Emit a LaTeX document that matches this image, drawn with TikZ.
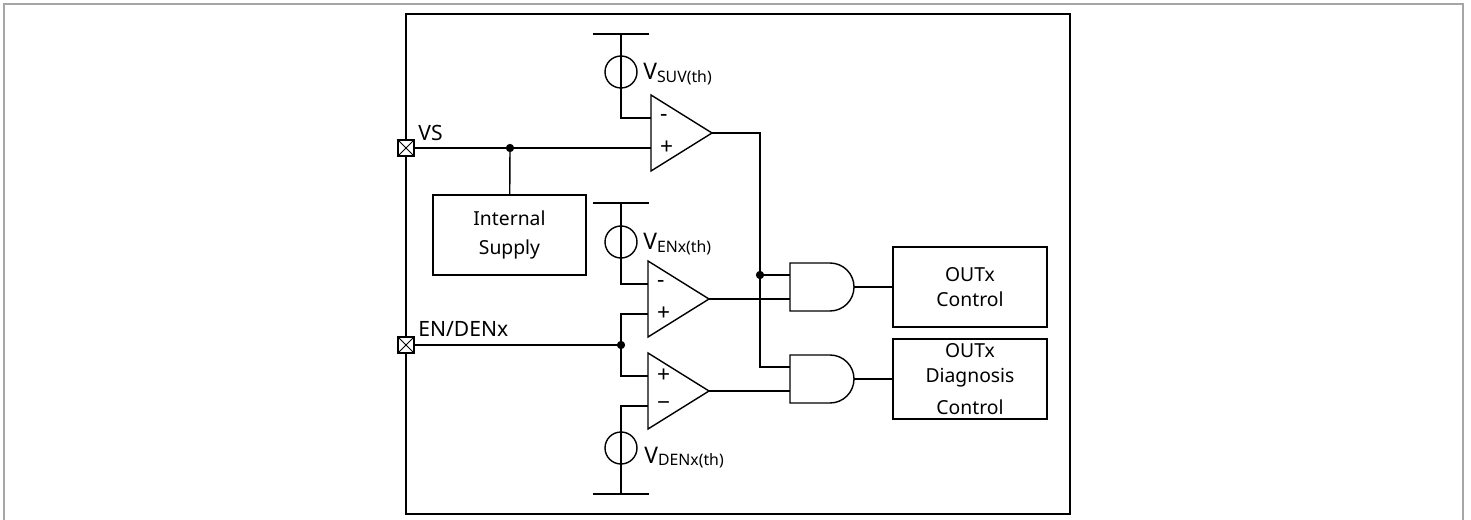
\documentclass[tikz,border=0pt]{standalone}
\usepackage{fontspec}
\setmainfont{Noto Sans}
\usetikzlibrary{positioning}
\newcommand{\Vth}[1]{{\fontsize{13}{16}\selectfont V}\raisebox{-1.5pt}{\fontsize{9}{11}\selectfont #1}}
\tikzset{
    wire/.style={line width=0.8pt},
    blk/.style={draw,line width=0.8pt,minimum width=3.08cm,minimum height=1.6cm,
        inner sep=0pt,align=center},
    src/.style={draw,circle,line width=0.8pt,minimum size=0.64cm,inner sep=0pt},
    jdot/.style={draw,fill,circle,inner sep=0pt,minimum size=0.15cm},
    pin/.style={draw,fill=white,line width=0.8pt,minimum size=0.32cm,inner sep=0pt,
        path picture={\draw[line width=0.5pt]
            (path picture bounding box.north west) -- (path picture bounding box.south east)
            (path picture bounding box.north east) -- (path picture bounding box.south west);}},
}

\begin{document}
\begin{tikzpicture}[x=0.02cm,y=-0.02cm,font=\fontsize{11}{15}\selectfont]
    \useasboundingbox (0,0) rectangle (1471,520);
    \draw[gray!70,line width=1pt] (4,530) |- (1463,4) -- (1463,530);
    \draw[wire] (406,14) rectangle (1070,514);

    % comparators
    \foreach \x/\y[
        count = \n,
        evaluate = \y as \ya using \y-15,
        evaluate = \y as \yb using \y+15,
        evaluate = \x as \xo using \x+61,
    ] in {651/133,648/299,648/391}{%
        \draw[wire] (\x,\y-38) -- (\xo,\y) -- (\x,\y+38) -- cycle;
        \coordinate (C\n-a) at (\x,\ya);
        \coordinate (C\n-b) at (\x,\yb);
        \coordinate (C\n-o) at (\xo,\y);
    }
    \foreach \c/\s in {C1-a/-,C1-b/+,C2-a/-,C2-b/+,C3-a/+,C3-b/−}{%
        \node[inner sep=0pt,right=5pt of \c,font=\fontsize{13}{15}\selectfont] {\s};
    }

    % and gates
    \foreach \y[count = \n] in {287,379}{%
        \draw[wire] (790,\y-24) -- (830,\y-24)
            arc[start angle=-90,end angle=90,radius=24] -- (790,\y+24) -- cycle;
        \coordinate (G\n-a) at (790,\y-12);
        \coordinate (G\n-b) at (790,\y+12);
        \coordinate (G\n-o) at (854,\y);
    }

    % blocks
    \node[blk,minimum width=3.06cm] (Sup) at (509.5,235) {Internal\\[1pt]Supply};
    \node[blk] (Ctl) at (970,287) {OUTx\\[-1pt]Control};
    \node[blk] (Diag) at (970,379) {OUTx\\[-1pt]Diagnosis\\[3pt]Control};

    % threshold sources
    \node[src] (S1) at (621,72) {};
    \node[src] (S2) at (621,242) {};
    \node[src] (S3) at (621,448) {};
    \coordinate (B1) at (621,34);
    \coordinate (B2) at (621,203);
    \coordinate (B3) at (621,494);
    \foreach \b in {B1,B2,B3}{%
        \draw[wire] ([xshift=-16]\b) -- ([xshift=16]\b);
    }
    \node[anchor=base west,inner sep=0pt] (L1) at (643,80) {\Vth{SUV(th)}};
    \node[anchor=base west,inner sep=0pt] (L2) at (643,250) {\Vth{ENx(th)}};
    \node[anchor=base west,inner sep=0pt] (L3) at (644,463) {\Vth{DENx(th)}};

    % pins
    \node[pin] (P1) at (406,148) {};
    \node[pin] (P2) at (406,345) {};
    \node[anchor=base west,inner sep=0pt,font=\fontsize{12}{15}\selectfont] (L4) at (418,141) {VS};
    \node[anchor=base west,inner sep=0pt,font=\fontsize{12}{15}\selectfont] (L5) at (418,337) {EN/DENx};

    \node[jdot] (J1) at (510,148) {};
    \node[jdot] (J2) at (760,275) {};
    \node[jdot] (J3) at (621,345) {};

    % wires
    \draw[wire] (P1) -- (C1-b);
    \draw[wire] (J1) -- (Sup);
    \draw[wire] (P2) -- (J3.center);
    \draw[wire] (J3.center) |- (C2-b);
    \draw[wire] (J3.center) |- (C3-a);
    \draw[wire] (B1) |- (C1-a);
    \draw[wire] (B2) |- (C2-a);
    \draw[wire] (B3) |- (C3-b);
    \draw[wire] (C1-o) -| (J2.center) |- (G2-a);
    \draw[wire] (J2.center) -- (G1-a);
    \draw[wire] (C2-o) -- (G1-b);
    \draw[wire] (C3-o) -- (G2-b);
    \draw[wire] (G1-o) -- (Ctl);
    \draw[wire] (G2-o) -- (Diag);
\end{tikzpicture}
\end{document}
